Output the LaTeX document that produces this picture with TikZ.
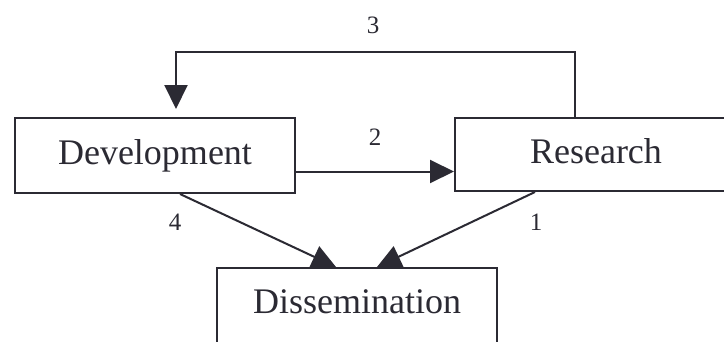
\documentclass[tikz,border=0pt]{standalone}
\usepackage{fontspec}
\setmainfont{Liberation Serif}
\usetikzlibrary{arrows.meta}
\definecolor{ink}{HTML}{2B2A33}
\begin{document}
\begin{tikzpicture}[x=1pt,y=-1pt,
  box/.style={draw=ink, line width=2pt, fill=white, text=ink,
    font=\fontsize{36}{40}\selectfont, inner sep=0pt,
    text height=25pt, text depth=8pt},
  arr/.style={draw=ink, line width=2pt,
    -{Triangle[length=24pt,width=23pt]}},
  num/.style={text=ink, font=\fontsize{25}{28}\selectfont, inner sep=0pt}]
\useasboundingbox (0,0) rectangle (724,341);
\clip (0,0) rectangle (724,341);
\fill[white] (0,0) rectangle (724,341);
\node[box, minimum width=280pt, minimum height=75pt] (dev) at (155,155.5) {Development};
\node[box, minimum width=282pt, minimum height=73pt] (res) at (596,154.5) {Research};
\node[box, minimum width=280pt, anchor=north, inner ysep=5pt,
      text height=40pt, text depth=35pt] (dis) at (357,267) {Dissemination};
\draw[arr] ([yshift=-16pt]dev.east) -- ([yshift=-16pt]dev.east -| res.west);
\draw[arr] ([xshift=-21pt]res.north) -- ++(0,-65) -| ([xshift=21pt,yshift=8pt]dev.north);
\draw[arr] ([xshift=25pt]dev.south) -- ([xshift=-21pt]dis.north);
\draw[arr] ([xshift=-61pt]res.south) -- ([xshift=20pt]dis.north);
\node[num] (n3) at (373,25) {3};
\node[num] (n2) at (375,137) {2};
\node[num] (n4) at (175,222) {4};
\node[num] (n1) at (536,222) {1};
\end{tikzpicture}
\end{document}
